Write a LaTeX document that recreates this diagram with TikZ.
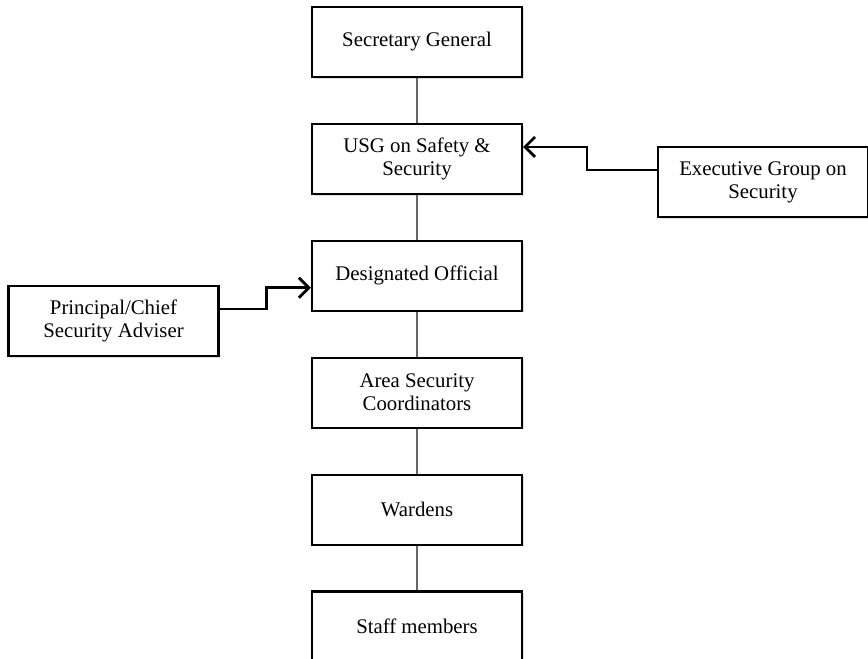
\documentclass[tikz,border=0pt]{standalone}
\usepackage{fontspec}
\setmainfont{Liberation Serif}
\usetikzlibrary{positioning,arrows.meta,shadows}

\begin{document}
\begin{tikzpicture}[x=0.5pt, y=-0.5pt, node distance=22.35pt,
  unit/.style={rectangle, draw, line width=1.1pt, fill=white, minimum width=105pt, minimum height=35pt, align=center, font=\fontsize{10.4}{11.5}\selectfont, drop shadow={shadow xshift=0.8pt, shadow yshift=-0.8pt, opacity=0.25}},
  link/.style={draw=gray!80!black, line width=0.6pt},
  feed/.style={line width=1.4pt, -{Straight Barb[length=5pt,width=10pt]}}]
\useasboundingbox (0,0) rectangle (868,659);
\node[unit] (sg) at (417,42) {Secretary General};
\node[unit, below=of sg] (usg) {USG on Safety \&\\Security};
\node[unit, below=of usg] (dso) {Designated Official};
\node[unit, below=of dso] (asc) {Area Security\\Coordinators};
\node[unit, below=of asc] (wdn) {Wardens};
\node[unit, below=of wdn] (stf) {Staff members};
\node[unit] (egs) at (763,182) {Executive Group on\\Security};
\node[unit] (pcsa) at (113.5,321) {Principal/Chief\\Security Adviser};
\foreach \a/\b in {sg/usg, usg/dso, dso/asc, asc/wdn, wdn/stf}
  \draw[link] (\a) -- (\b);
\draw[feed] ([yshift=6pt]egs.west) -- ++(-35pt,0) |- ([yshift=6pt]usg.east);
\draw[feed] ([yshift=6pt]pcsa.east) -- ++(23.5pt,0) |- ([yshift=-6pt]dso.west);
\end{tikzpicture}
\end{document}
